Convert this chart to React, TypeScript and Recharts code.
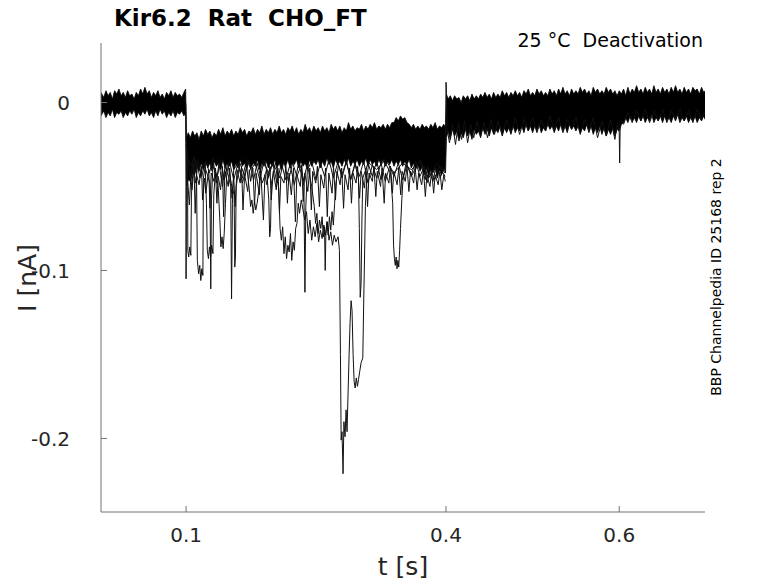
import React from 'react';
import { ComposedChart, Area, Line, XAxis, YAxis } from 'recharts';

const WIDTH = 778;
const HEIGHT = 583;
const AXIS_COLOR = '#737373';
const TEXT_COLOR = '#262626';
const FONT = '"DejaVu Sans", sans-serif';
const X_TICK_MARGIN = 16;
const Y_TICK_MARGIN = 31;

const X_TICKS = [0.1, 0.4, 0.6];
const Y_TICKS = [-0.2, -0.1, 0];

// envelope of the dense bundle of sweeps (time in s, current in nA)
const BAND_T = [
  0.0018, 0.005, 0.0075, 0.01, 0.0125, 0.015, 0.0175, 0.02, 0.0225, 0.025,
  0.0275, 0.03, 0.0325, 0.035, 0.0375, 0.04, 0.0425, 0.045, 0.0475, 0.05,
  0.0525, 0.055, 0.0575, 0.06, 0.0625, 0.065, 0.0675, 0.07, 0.0725, 0.075,
  0.0775, 0.08, 0.0825, 0.085, 0.0875, 0.09, 0.0925, 0.095, 0.0975, 0.0995,
  0.1005, 0.1025, 0.105, 0.1075, 0.11, 0.1125, 0.115, 0.1175, 0.12, 0.1225,
  0.125, 0.1275, 0.13, 0.1325, 0.135, 0.1375, 0.14, 0.1425, 0.145, 0.1475,
  0.15, 0.1525, 0.155, 0.1575, 0.16, 0.1625, 0.165, 0.1675, 0.17, 0.1725,
  0.175, 0.1775, 0.18, 0.1825, 0.185, 0.1875, 0.19, 0.1925, 0.195, 0.1975,
  0.2, 0.2025, 0.205, 0.2075, 0.21, 0.2125, 0.215, 0.2175, 0.22, 0.2225,
  0.225, 0.2275, 0.23, 0.2325, 0.235, 0.2375, 0.24, 0.2425, 0.245, 0.2475,
  0.25, 0.2525, 0.255, 0.2575, 0.26, 0.2625, 0.265, 0.2675, 0.27, 0.2725,
  0.275, 0.2775, 0.28, 0.2825, 0.285, 0.2875, 0.29, 0.2925, 0.295, 0.2975,
  0.3, 0.3025, 0.305, 0.3075, 0.31, 0.3125, 0.315, 0.3175, 0.32, 0.3225,
  0.325, 0.3275, 0.33, 0.3325, 0.335, 0.3375, 0.34, 0.3425, 0.345, 0.3475,
  0.35, 0.3525, 0.355, 0.3575, 0.36, 0.3625, 0.365, 0.3675, 0.37, 0.3725,
  0.375, 0.3775, 0.38, 0.3825, 0.385, 0.3875, 0.39, 0.3925, 0.395, 0.3975,
  0.3995,
  0.4005, 0.4025, 0.405, 0.4075, 0.41, 0.4125, 0.415, 0.4175, 0.42, 0.4225,
  0.425, 0.4275, 0.43, 0.4325, 0.435, 0.4375, 0.44, 0.4425, 0.445, 0.4475,
  0.45, 0.4525, 0.455, 0.4575, 0.46, 0.4625, 0.465, 0.4675, 0.47, 0.4725,
  0.475, 0.4775, 0.48, 0.4825, 0.485, 0.4875, 0.49, 0.4925, 0.495, 0.4975,
  0.5, 0.5025, 0.505, 0.5075, 0.51, 0.5125, 0.515, 0.5175, 0.52, 0.5225,
  0.525, 0.5275, 0.53, 0.5325, 0.535, 0.5375, 0.54, 0.5425, 0.545, 0.5475,
  0.55, 0.5525, 0.555, 0.5575, 0.56, 0.5625, 0.565, 0.5675, 0.57, 0.5725,
  0.575, 0.5775, 0.58, 0.5825, 0.585, 0.5875, 0.59, 0.5925, 0.595, 0.5975,
  0.6, 0.6025, 0.605, 0.6075, 0.61, 0.6125, 0.615, 0.6175, 0.62, 0.6225,
  0.625, 0.6275, 0.63, 0.6325, 0.635, 0.6375, 0.64, 0.6425, 0.645, 0.6475,
  0.65, 0.6525, 0.655, 0.6575, 0.66, 0.6625, 0.665, 0.6675, 0.67, 0.6725,
  0.675, 0.6775, 0.68, 0.6825, 0.685, 0.6875, 0.69, 0.6925, 0.695, 0.6975,
  0.699,
];

const BAND_HI = [
  // 0 – 0.1 s
  0.006, 0.003, 0.007, 0.004, 0.006, 0.002, 0.007, 0.005, 0.008, 0.004,
  0.006, 0.003, 0.007, 0.004, 0.005, 0.002, 0.006, 0.004, 0.008, 0.005,
  0.009, 0.005, 0.007, 0.003, 0.006, 0.004, 0.007, 0.003, 0.005, 0.002,
  0.006, 0.004, 0.007, 0.003, 0.006, 0.004, 0.005, 0.003, 0.006, 0.008,
  // 0.1 – 0.4 s
  -0.021, -0.018, -0.021, -0.017, -0.02, -0.018, -0.022, -0.017, -0.02, -0.016,
  -0.019, -0.017, -0.021, -0.018, -0.02, -0.016, -0.019, -0.015, -0.02, -0.017,
  -0.019, -0.016, -0.02, -0.017, -0.019, -0.015, -0.018, -0.016, -0.02, -0.017,
  -0.018, -0.015, -0.019, -0.016, -0.018, -0.014, -0.019, -0.016, -0.018, -0.015,
  -0.019, -0.016, -0.018, -0.014, -0.018, -0.016, -0.019, -0.015, -0.017, -0.014,
  -0.018, -0.015, -0.019, -0.016, -0.018, -0.013, -0.017, -0.015, -0.018, -0.014,
  -0.017, -0.015, -0.018, -0.014, -0.017, -0.015, -0.018, -0.013, -0.016, -0.014,
  -0.017, -0.014, -0.018, -0.015, -0.017, -0.012, -0.016, -0.014, -0.017, -0.015,
  -0.016, -0.013, -0.017, -0.014, -0.016, -0.013, -0.015, -0.012, -0.016, -0.014,
  -0.015, -0.013, -0.016, -0.013, -0.015, -0.012, -0.012, -0.009, -0.011, -0.008,
  -0.01, -0.009, -0.012, -0.013, -0.015, -0.013, -0.016, -0.014, -0.016, -0.013,
  -0.015, -0.014, -0.016, -0.013, -0.015, -0.012, -0.016, -0.014, -0.015, -0.013,
  -0.015,
  // 0.4 – 0.7 s
  0.005, 0.002, 0.004, 0.001, 0.004, 0.002, 0.003, 0.0, 0.004, 0.002,
  0.004, 0.001, 0.005, 0.002, 0.004, 0.002, 0.005, 0.003, 0.006, 0.003,
  0.005, 0.002, 0.006, 0.003, 0.005, 0.003, 0.007, 0.004, 0.006, 0.003,
  0.006, 0.004, 0.007, 0.004, 0.006, 0.003, 0.007, 0.005, 0.008, 0.004,
  0.006, 0.004, 0.008, 0.005, 0.007, 0.004, 0.006, 0.004, 0.008, 0.005,
  0.007, 0.004, 0.008, 0.005, 0.009, 0.005, 0.007, 0.004, 0.008, 0.005,
  0.007, 0.005, 0.009, 0.006, 0.008, 0.005, 0.007, 0.004, 0.009, 0.006,
  0.008, 0.005, 0.007, 0.005, 0.009, 0.006, 0.008, 0.005, 0.007, 0.004,
  0.007, 0.005, 0.008, 0.004, 0.009, 0.005, 0.008, 0.006, 0.01, 0.006,
  0.008, 0.005, 0.009, 0.006, 0.008, 0.005, 0.01, 0.006, 0.008, 0.005,
  0.009, 0.006, 0.008, 0.005, 0.009, 0.006, 0.01, 0.006, 0.008, 0.005,
  0.009, 0.006, 0.008, 0.005, 0.009, 0.007, 0.008, 0.005, 0.009, 0.006,
  0.007,
];

const BAND_LO = [
  // 0 – 0.1 s
  -0.008, -0.005, -0.009, -0.006, -0.008, -0.004, -0.009, -0.006, -0.007, -0.005,
  -0.009, -0.006, -0.008, -0.005, -0.007, -0.004, -0.009, -0.006, -0.008, -0.005,
  -0.007, -0.004, -0.008, -0.006, -0.009, -0.005, -0.008, -0.004, -0.007, -0.005,
  -0.009, -0.006, -0.008, -0.005, -0.009, -0.006, -0.007, -0.005, -0.008, -0.006,
  // 0.1 – 0.4 s
  -0.05, -0.046, -0.047, -0.042, -0.043, -0.038, -0.041, -0.036, -0.04, -0.035,
  -0.039, -0.036, -0.041, -0.035, -0.038, -0.036, -0.04, -0.034, -0.039, -0.036,
  -0.038, -0.035, -0.04, -0.036, -0.039, -0.034, -0.038, -0.036, -0.04, -0.035,
  -0.039, -0.036, -0.038, -0.034, -0.04, -0.036, -0.038, -0.035, -0.039, -0.036,
  -0.038, -0.034, -0.039, -0.036, -0.04, -0.035, -0.038, -0.034, -0.039, -0.036,
  -0.037, -0.034, -0.039, -0.035, -0.038, -0.036, -0.04, -0.034, -0.038, -0.035,
  -0.037, -0.034, -0.039, -0.035, -0.038, -0.033, -0.037, -0.035, -0.039, -0.034,
  -0.037, -0.035, -0.038, -0.034, -0.037, -0.033, -0.038, -0.035, -0.037, -0.034,
  -0.038, -0.035, -0.037, -0.033, -0.038, -0.034, -0.037, -0.035, -0.038, -0.034,
  -0.037, -0.034, -0.038, -0.035, -0.037, -0.034, -0.038, -0.035, -0.037, -0.034,
  -0.038, -0.035, -0.037, -0.034, -0.039, -0.036, -0.04, -0.037, -0.041, -0.038,
  -0.043, -0.039, -0.044, -0.04, -0.042, -0.039, -0.045, -0.04, -0.043, -0.039,
  -0.042,
  // 0.4 – 0.7 s
  -0.021, -0.017, -0.022, -0.016, -0.02, -0.017, -0.023, -0.018, -0.021, -0.016,
  -0.02, -0.017, -0.022, -0.016, -0.019, -0.017, -0.021, -0.015, -0.019, -0.016,
  -0.02, -0.015, -0.019, -0.016, -0.018, -0.014, -0.019, -0.015, -0.018, -0.015,
  -0.019, -0.014, -0.018, -0.015, -0.017, -0.014, -0.018, -0.013, -0.017, -0.014,
  -0.018, -0.014, -0.017, -0.013, -0.018, -0.015, -0.017, -0.013, -0.016, -0.014,
  -0.018, -0.014, -0.017, -0.013, -0.017, -0.014, -0.018, -0.013, -0.016, -0.014,
  -0.017, -0.014, -0.018, -0.015, -0.017, -0.013, -0.018, -0.014, -0.019, -0.015,
  -0.018, -0.014, -0.019, -0.015, -0.02, -0.016, -0.019, -0.015, -0.02, -0.016,
  -0.017, -0.013, -0.012, -0.009, -0.012, -0.008, -0.011, -0.009, -0.012, -0.008,
  -0.011, -0.008, -0.012, -0.009, -0.011, -0.007, -0.012, -0.009, -0.011, -0.008,
  -0.012, -0.008, -0.011, -0.009, -0.012, -0.008, -0.011, -0.007, -0.012, -0.009,
  -0.011, -0.008, -0.012, -0.009, -0.011, -0.008, -0.012, -0.009, -0.011, -0.008,
  -0.01,
];

// single sweeps that leave the bundle: [t, I]
const SWEEP_1: [number, number][] = [
  [0.099, 0.002], [0.0998, -0.002], [0.1, -0.105], [0.1004, -0.05], [0.101, -0.04],
  [0.103, -0.034], [0.106, -0.038], [0.109, -0.032], [0.112, -0.04], [0.113, -0.094],
  [0.1145, -0.102], [0.1158, -0.097], [0.117, -0.106], [0.1182, -0.099], [0.1194, -0.103],
  [0.12, -0.045], [0.123, -0.035], [0.127, -0.042], [0.131, -0.033], [0.135, -0.048],
  [0.138, -0.036], [0.142, -0.05], [0.145, -0.038], [0.149, -0.044], [0.1515, -0.05],
  [0.1525, -0.117], [0.1535, -0.06], [0.155, -0.04], [0.16, -0.036], [0.165, -0.045],
  [0.17, -0.034], [0.175, -0.04], [0.18, -0.036], [0.185, -0.046], [0.19, -0.035],
  [0.195, -0.042], [0.2, -0.036], [0.204, -0.04], [0.207, -0.052], [0.2085, -0.075],
  [0.21, -0.082], [0.2115, -0.074], [0.213, -0.09], [0.2145, -0.08], [0.216, -0.093],
  [0.2175, -0.085], [0.219, -0.089], [0.2205, -0.078], [0.222, -0.094], [0.2235, -0.083],
  [0.225, -0.088], [0.2265, -0.075], [0.228, -0.072], [0.2295, -0.06], [0.231, -0.066],
  [0.233, -0.058], [0.235, -0.064], [0.237, -0.07], [0.239, -0.065], [0.241, -0.078],
  [0.243, -0.07], [0.245, -0.082], [0.247, -0.074], [0.249, -0.08], [0.251, -0.072],
  [0.253, -0.083], [0.255, -0.076], [0.257, -0.081], [0.259, -0.073], [0.261, -0.079],
  [0.263, -0.071], [0.265, -0.082], [0.267, -0.077], [0.269, -0.085], [0.271, -0.079],
  [0.273, -0.083], [0.2755, -0.08], [0.277, -0.088], [0.2782, -0.15], [0.279, -0.201],
  [0.28, -0.196], [0.2812, -0.221], [0.2822, -0.19], [0.2835, -0.199], [0.2847, -0.183],
  [0.2858, -0.196], [0.287, -0.173], [0.2882, -0.15], [0.2893, -0.131], [0.2905, -0.118],
  [0.2916, -0.124], [0.2928, -0.15], [0.294, -0.166], [0.2952, -0.17], [0.2965, -0.164],
  [0.2978, -0.169], [0.299, -0.165], [0.3005, -0.16], [0.302, -0.155], [0.304, -0.152],
  [0.305, -0.12], [0.3058, -0.098], [0.307, -0.062], [0.3085, -0.045], [0.311, -0.036],
  [0.32, -0.04], [0.33, -0.034], [0.34, -0.042], [0.35, -0.036], [0.36, -0.04],
  [0.37, -0.035], [0.376, -0.046], [0.379, -0.038], [0.385, -0.047], [0.388, -0.039],
  [0.394, -0.044], [0.399, -0.038],
];

const SWEEP_2: [number, number][] = [
  [0.1, -0.02], [0.101, -0.03], [0.1018, -0.05], [0.102, -0.088], [0.103, -0.092],
  [0.1042, -0.086], [0.1055, -0.091], [0.1062, -0.055], [0.108, -0.04], [0.112, -0.034],
  [0.116, -0.045], [0.12, -0.036], [0.124, -0.042], [0.1275, -0.048], [0.1285, -0.111],
  [0.1293, -0.058], [0.131, -0.038], [0.136, -0.044], [0.14, -0.034], [0.144, -0.046],
  [0.148, -0.036], [0.152, -0.048], [0.1555, -0.055], [0.1562, -0.098], [0.157, -0.092],
  [0.1578, -0.05], [0.162, -0.036], [0.168, -0.044], [0.172, -0.034], [0.178, -0.046],
  [0.182, -0.036], [0.188, -0.048], [0.193, -0.04], [0.1955, -0.058], [0.1965, -0.08],
  [0.1975, -0.075], [0.1985, -0.048], [0.203, -0.036], [0.208, -0.045], [0.213, -0.035],
  [0.218, -0.047], [0.223, -0.036], [0.228, -0.044], [0.233, -0.037], [0.236, -0.05],
  [0.2372, -0.113], [0.2382, -0.062], [0.24, -0.04], [0.245, -0.035], [0.25, -0.046],
  [0.255, -0.036], [0.26, -0.044], [0.265, -0.034], [0.27, -0.045], [0.275, -0.036],
  [0.28, -0.043], [0.285, -0.035], [0.29, -0.046], [0.295, -0.037], [0.299, -0.045],
  [0.3, -0.075], [0.301, -0.116], [0.302, -0.108], [0.303, -0.07], [0.304, -0.045],
  [0.31, -0.036], [0.315, -0.044], [0.32, -0.035], [0.325, -0.046], [0.33, -0.036],
  [0.336, -0.042], [0.3385, -0.06], [0.3395, -0.085], [0.3405, -0.093], [0.3415, -0.097],
  [0.3425, -0.092], [0.3435, -0.099], [0.3445, -0.094], [0.3455, -0.098], [0.3465, -0.088],
  [0.3475, -0.075], [0.349, -0.058], [0.3505, -0.045], [0.354, -0.036], [0.36, -0.044],
  [0.37, -0.034], [0.38, -0.045], [0.39, -0.036], [0.399, -0.042],
];

const SWEEP_3: [number, number][] = [
  [0.1, -0.025], [0.102, -0.034], [0.105, -0.045], [0.108, -0.036], [0.111, -0.048],
  [0.114, -0.035], [0.118, -0.044], [0.122, -0.036], [0.1235, -0.06], [0.1245, -0.088],
  [0.1258, -0.093], [0.127, -0.086], [0.1283, -0.092], [0.1295, -0.085], [0.131, -0.09],
  [0.132, -0.055], [0.134, -0.04], [0.137, -0.05], [0.139, -0.07], [0.1402, -0.086],
  [0.1415, -0.08], [0.1428, -0.087], [0.144, -0.078], [0.1455, -0.06], [0.147, -0.042],
  [0.15, -0.035], [0.155, -0.046], [0.16, -0.036], [0.165, -0.048], [0.17, -0.038],
  [0.173, -0.052], [0.1745, -0.062], [0.176, -0.058], [0.1775, -0.066], [0.179, -0.059],
  [0.1805, -0.064], [0.182, -0.06], [0.184, -0.052], [0.186, -0.04], [0.19, -0.034],
  [0.195, -0.045], [0.2, -0.036], [0.205, -0.048], [0.21, -0.036], [0.215, -0.046],
  [0.22, -0.037], [0.225, -0.049], [0.23, -0.036], [0.235, -0.047], [0.24, -0.037],
  [0.245, -0.05], [0.248, -0.062], [0.2495, -0.072], [0.251, -0.066], [0.2525, -0.078],
  [0.254, -0.07], [0.2555, -0.075], [0.257, -0.068], [0.2585, -0.08], [0.2598, -0.074],
  [0.2606, -0.1], [0.2614, -0.078], [0.2625, -0.071], [0.264, -0.079], [0.2655, -0.068],
  [0.267, -0.076], [0.2685, -0.065], [0.27, -0.073], [0.2715, -0.06], [0.273, -0.048],
  [0.276, -0.037], [0.28, -0.045], [0.285, -0.035], [0.29, -0.046], [0.295, -0.036],
  [0.3, -0.044], [0.305, -0.035], [0.31, -0.048], [0.315, -0.037], [0.32, -0.045],
  [0.325, -0.036], [0.33, -0.047], [0.335, -0.038], [0.34, -0.044], [0.345, -0.036],
  [0.35, -0.046], [0.355, -0.037], [0.36, -0.043], [0.365, -0.035], [0.37, -0.044],
  [0.375, -0.038], [0.378, -0.048], [0.382, -0.04], [0.387, -0.046], [0.392, -0.038],
  [0.399, -0.044],
];

const SWEEP_4: [number, number][] = [
  [0.1012, -0.042], [0.1038, -0.061], [0.1055, -0.044], [0.1068, -0.052], [0.1092, -0.039],
  [0.1105, -0.066], [0.1121, -0.043], [0.115, -0.049], [0.1178, -0.038], [0.119, -0.058],
  [0.1215, -0.045], [0.1228, -0.054], [0.1262, -0.04], [0.1275, -0.063], [0.129, -0.042],
  [0.1322, -0.047], [0.1338, -0.039], [0.1356, -0.06], [0.1371, -0.044], [0.1398, -0.052],
  [0.142, -0.038], [0.1433, -0.068], [0.1448, -0.041], [0.1487, -0.05], [0.1503, -0.039],
  [0.1531, -0.057], [0.155, -0.044], [0.1566, -0.062], [0.1588, -0.04], [0.1625, -0.048],
  [0.164, -0.038], [0.1657, -0.064], [0.1676, -0.043], [0.1712, -0.053], [0.173, -0.04],
  [0.1745, -0.047], [0.1771, -0.039], [0.179, -0.061], [0.1808, -0.042], [0.1846, -0.055],
  [0.186, -0.039], [0.1893, -0.07], [0.191, -0.043], [0.1932, -0.049], [0.1968, -0.038],
  [0.1983, -0.058], [0.2007, -0.041], [0.2041, -0.052], [0.206, -0.039], [0.2078, -0.066],
  [0.2094, -0.044], [0.213, -0.048], [0.2152, -0.038], [0.217, -0.06], [0.2188, -0.042],
  [0.2215, -0.055], [0.224, -0.039], [0.2262, -0.071], [0.2279, -0.043], [0.2318, -0.05],
  [0.2335, -0.038], [0.2352, -0.059], [0.2371, -0.042], [0.2405, -0.053], [0.2428, -0.039],
  [0.2446, -0.064], [0.2462, -0.041], [0.2497, -0.048], [0.2516, -0.038], [0.2539, -0.062],
  [0.2556, -0.043], [0.259, -0.051], [0.2611, -0.039], [0.263, -0.068], [0.2648, -0.042],
  [0.2685, -0.054], [0.2702, -0.038], [0.2725, -0.058], [0.2741, -0.041], [0.2778, -0.049],
  [0.2796, -0.039], [0.2818, -0.063], [0.2835, -0.043], [0.287, -0.052], [0.2888, -0.039],
  [0.2909, -0.06], [0.2927, -0.042], [0.2962, -0.048], [0.298, -0.038], [0.3003, -0.057],
  [0.3021, -0.041], [0.3058, -0.051], [0.3077, -0.039], [0.3095, -0.062], [0.3112, -0.042],
  [0.315, -0.047], [0.3168, -0.038], [0.319, -0.056], [0.3207, -0.041], [0.3245, -0.05],
  [0.3262, -0.039], [0.3287, -0.06], [0.3303, -0.042], [0.3341, -0.048], [0.336, -0.038],
  [0.3382, -0.054], [0.3398, -0.041], [0.3436, -0.049], [0.3455, -0.039], [0.3478, -0.055],
  [0.3494, -0.041], [0.353, -0.047], [0.355, -0.038], [0.3572, -0.053], [0.359, -0.041],
  [0.3627, -0.048], [0.3645, -0.039], [0.3667, -0.052], [0.3685, -0.042], [0.372, -0.049],
  [0.374, -0.04], [0.3762, -0.056], [0.378, -0.043], [0.3815, -0.05], [0.3835, -0.041],
  [0.3858, -0.054], [0.3875, -0.043], [0.391, -0.049], [0.393, -0.041], [0.3952, -0.052],
  [0.3975, -0.043], [0.3992, -0.047],
];

const SWEEP_5: [number, number][] = [
  [0.3996, -0.03], [0.4001, 0.012], [0.4008, 0.002], [0.4012, -0.015], [0.404, -0.024],
  [0.4075, -0.013], [0.411, -0.025], [0.4145, -0.012], [0.418, -0.022], [0.4215, -0.011],
  [0.425, -0.024], [0.4285, -0.013], [0.432, -0.021], [0.436, -0.011], [0.44, -0.02],
  [0.444, -0.012], [0.448, -0.021], [0.452, -0.01], [0.456, -0.019], [0.46, -0.011],
  [0.465, -0.02], [0.47, -0.01], [0.475, -0.018], [0.48, -0.009], [0.485, -0.019],
  [0.49, -0.01], [0.495, -0.017], [0.5, -0.009], [0.505, -0.018], [0.51, -0.01],
  [0.515, -0.017], [0.52, -0.008], [0.525, -0.016], [0.53, -0.009], [0.535, -0.018],
  [0.54, -0.01], [0.545, -0.016], [0.55, -0.009], [0.555, -0.019], [0.56, -0.01],
  [0.565, -0.017], [0.57, -0.009], [0.575, -0.021], [0.58, -0.011], [0.585, -0.02],
  [0.59, -0.01], [0.595, -0.022], [0.598, -0.012], [0.6, -0.018], [0.6005, -0.036],
  [0.6012, -0.01], [0.605, -0.013], [0.61, -0.006], [0.615, -0.012], [0.62, -0.005],
  [0.625, -0.011], [0.63, -0.004], [0.635, -0.012], [0.64, -0.005], [0.645, -0.011],
  [0.65, -0.004], [0.655, -0.012], [0.66, -0.005], [0.665, -0.01], [0.67, -0.004],
  [0.675, -0.011], [0.68, -0.005], [0.685, -0.012], [0.69, -0.004], [0.695, -0.01],
  [0.699, -0.005],
];

const SWEEPS = [SWEEP_1, SWEEP_2, SWEEP_3, SWEEP_4, SWEEP_5];

const bandRows = BAND_T.map((t, i) => ({ t, band: [BAND_LO[i], BAND_HI[i]] }));
const toRows = (pts: [number, number][]) => pts.map(([t, v]) => ({ t, v }));

const fmt = (v: number) => (v === 0 ? '0' : String(v));

function XTick(props: any) {
  const { x, y, payload } = props;
  const axisY = y - X_TICK_MARGIN;
  return (
    <g>
      <line x1={x} y1={axisY} x2={x} y2={axisY - 6} stroke={AXIS_COLOR} strokeWidth={1} />
      <text x={x} y={y} dy="0.72em" textAnchor="middle" fontSize={20} fill={TEXT_COLOR} fontFamily={FONT}>
        {fmt(payload.value)}
      </text>
    </g>
  );
}

function YTick(props: any) {
  const { x, y, payload } = props;
  const axisX = x + Y_TICK_MARGIN;
  return (
    <g>
      <line x1={axisX} y1={y} x2={axisX + 6} y2={y} stroke={AXIS_COLOR} strokeWidth={1} />
      <text x={x} y={y} dy="0.36em" textAnchor="end" fontSize={20} fill={TEXT_COLOR} fontFamily={FONT}>
        {fmt(payload.value)}
      </text>
    </g>
  );
}

export default function App() {
  return (
    <div style={{ position: 'absolute', left: 0, top: 0, width: WIDTH, height: HEIGHT, background: '#fff' }}>
      <ComposedChart
        width={WIDTH}
        height={HEIGHT}
        margin={{ top: 43, right: 73, bottom: 0, left: 0 }}
      >
        <XAxis
          type="number"
          dataKey="t"
          domain={[0.0018, 0.699]}
          allowDataOverflow
          ticks={X_TICKS}
          tick={<XTick />}
          tickLine={false}
          tickSize={0}
          tickMargin={X_TICK_MARGIN}
          height={71}
          stroke={AXIS_COLOR}
          interval={0}
        />
        <YAxis
          type="number"
          domain={[-0.2438, 0.0354]}
          allowDataOverflow
          ticks={Y_TICKS}
          tick={<YTick />}
          tickLine={false}
          tickSize={0}
          tickMargin={Y_TICK_MARGIN}
          width={101}
          stroke={AXIS_COLOR}
          interval={0}
        />
        <Area
          data={bandRows}
          dataKey="band"
          type="linear"
          stroke="#000"
          strokeWidth={0.8}
          fill="#000"
          fillOpacity={1}
          isAnimationActive={false}
        />
        {SWEEPS.map((s, i) => (
          <Line
            key={i}
            data={toRows(s)}
            dataKey="v"
            type="linear"
            stroke="#111"
            strokeWidth={1}
            dot={false}
            activeDot={false}
            isAnimationActive={false}
          />
        ))}
      </ComposedChart>
      <svg
        width={WIDTH}
        height={HEIGHT}
        style={{ position: 'absolute', left: 0, top: 0, pointerEvents: 'none' }}
        fontFamily={FONT}
      >
        <text x={114} y={26} fontSize={23} fontWeight="bold" fill="#000" style={{ whiteSpace: 'pre' }}>
          {'Kir6.2  Rat  CHO_FT'}
        </text>
        <text x={703} y={47} fontSize={19} textAnchor="end" fill="#000" style={{ whiteSpace: 'pre' }}>
          {'25 °C  Deactivation'}
        </text>
        <text x={403} y={575} fontSize={25} textAnchor="middle" fill={TEXT_COLOR}>
          t [s]
        </text>
        <text
          x={36}
          y={278}
          fontSize={25}
          textAnchor="middle"
          fill={TEXT_COLOR}
          transform="rotate(-90 36 278)"
        >
          I [nA]
        </text>
        <text
          x={721}
          y={277}
          fontSize={14}
          textAnchor="middle"
          fill="#000"
          transform="rotate(-90 721 277)"
        >
          BBP Channelpedia ID 25168 rep 2
        </text>
      </svg>
    </div>
  );
}
